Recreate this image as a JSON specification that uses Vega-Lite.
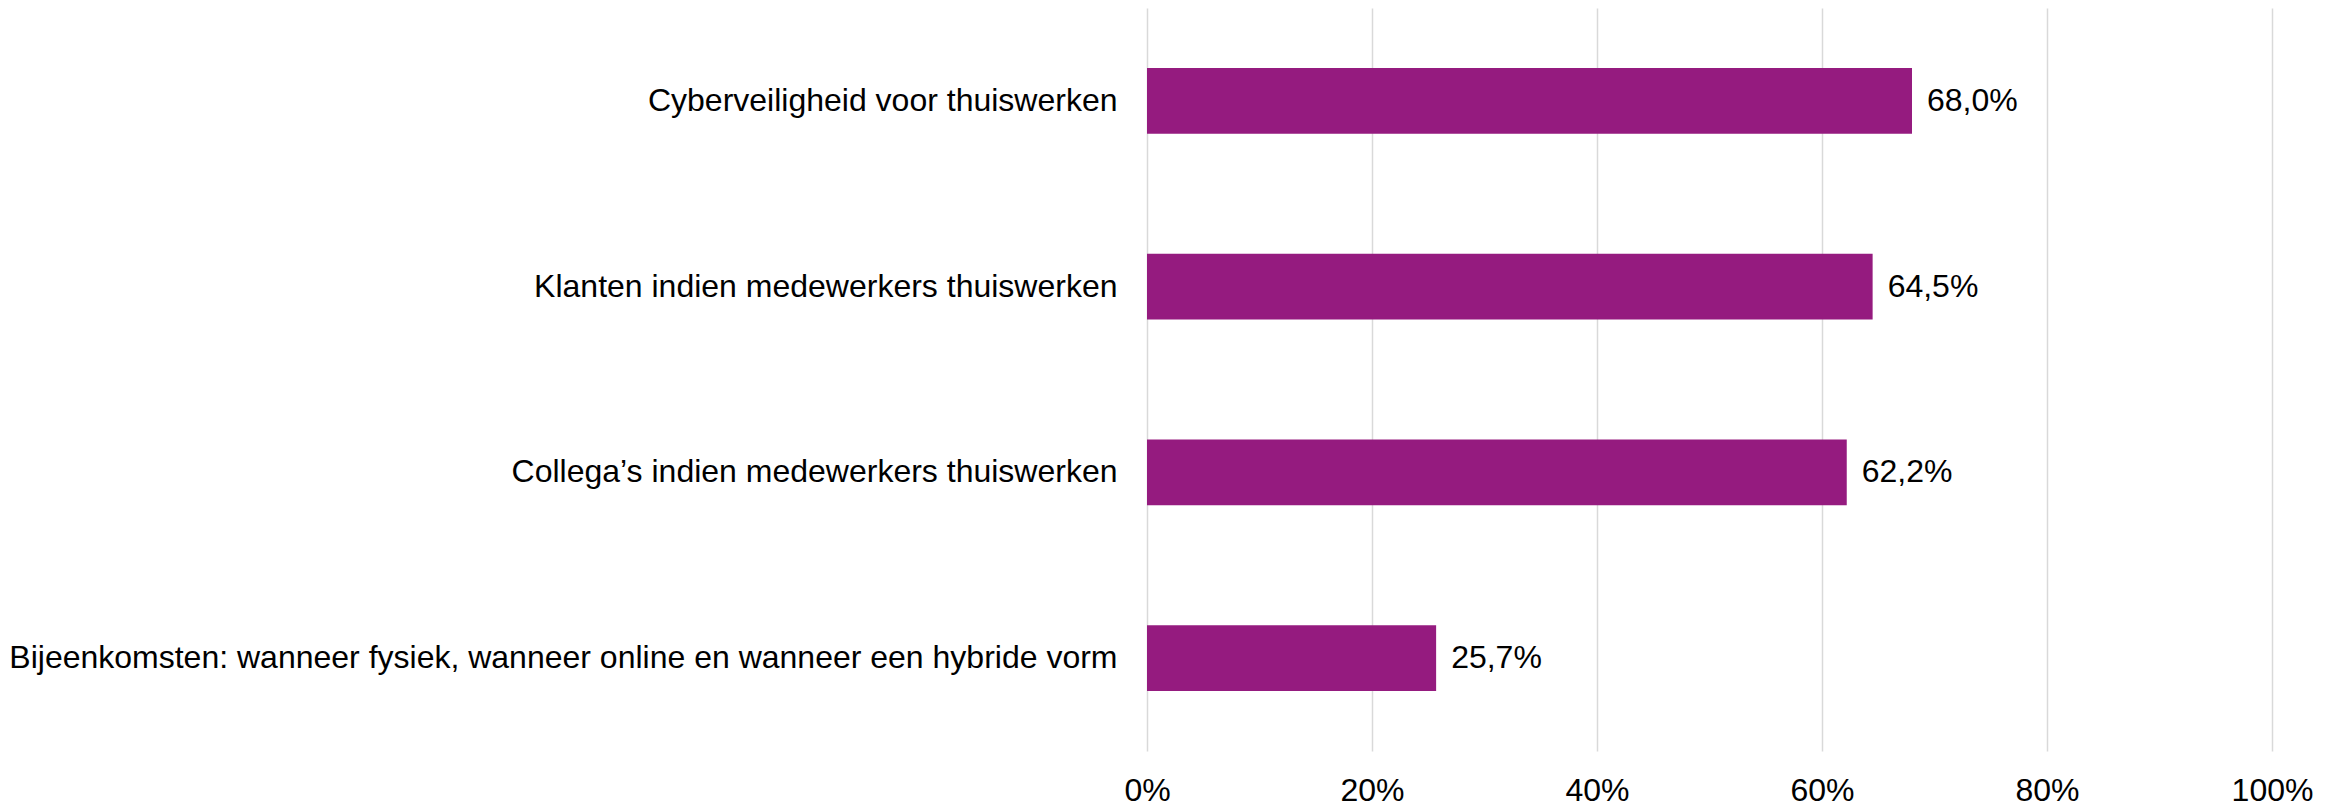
{
  "$schema": "https://vega.github.io/schema/vega-lite/v6.json",
  "autosize": "none",
  "width": 1125,
  "height": 743,
  "padding": {"left": 1147, "top": 8, "right": 69, "bottom": 54},
  "background": "white",
  "config": {
    "view": {"stroke": null},
    "font": "Liberation Sans",
    "locale": {"number": {"decimal": ",", "thousands": ".", "grouping": [3], "currency": ["€", ""]}}
  },
  "data": {
    "values": [
      {"categorie": "Cyberveiligheid voor thuiswerken", "aandeel": 0.680},
      {"categorie": "Klanten indien medewerkers thuiswerken", "aandeel": 0.645},
      {"categorie": "Collega’s indien medewerkers thuiswerken", "aandeel": 0.622},
      {"categorie": "Bijeenkomsten: wanneer fysiek, wanneer online en wanneer een hybride vorm", "aandeel": 0.257}
    ]
  },
  "encoding": {
    "y": {
      "field": "categorie",
      "type": "nominal",
      "sort": null,
      "title": null,
      "scale": {"paddingInner": 0.645, "paddingOuter": 0.3225},
      "axis": {
        "ticks": false,
        "domain": false,
        "labelPadding": 30,
        "labelLimit": 1200,
        "labelFontSize": 32,
        "labelColor": "#000000",
        "labelFont": "Liberation Sans"
      }
    },
    "x": {
      "field": "aandeel",
      "type": "quantitative",
      "title": null,
      "scale": {"domain": [0, 1], "nice": false},
      "axis": {
        "format": ".0%",
        "values": [0, 0.2, 0.4, 0.6, 0.8, 1],
        "ticks": false,
        "domain": false,
        "grid": true,
        "gridColor": "#d9d9d9",
        "gridWidth": 1.5,
        "labelPadding": 24,
        "labelFontSize": 32,
        "labelColor": "#000000",
        "labelFont": "Liberation Sans",
        "labelFlush": false
      }
    }
  },
  "layer": [
    {"mark": {"type": "bar", "color": "#951b7f"}},
    {
      "mark": {"type": "text", "align": "left", "baseline": "middle", "dx": 15, "fontSize": 32, "color": "#000000", "font": "Liberation Sans"},
      "encoding": {"text": {"field": "aandeel", "type": "quantitative", "format": ".1%"}}
    }
  ]
}
